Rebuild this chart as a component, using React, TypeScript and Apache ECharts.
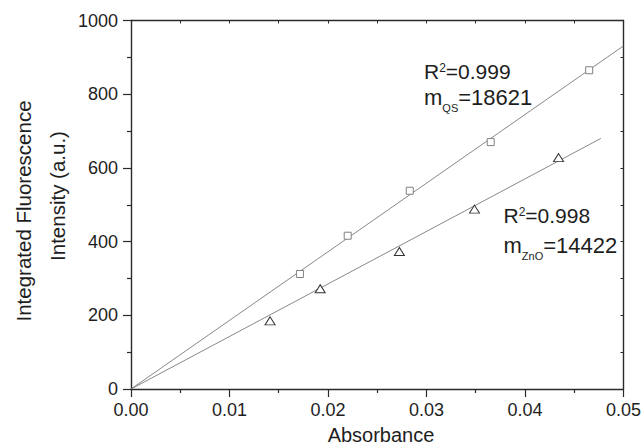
import React, { useEffect, useRef } from "react";
import * as echarts from "echarts";

// ---- data ----
const qsAbsorbance = [0.01715, 0.022, 0.0283, 0.03652, 0.04652];
const qsIntensity = [312, 416, 538, 670, 865];
const znoAbsorbance = [0.01412, 0.01921, 0.02725, 0.03487, 0.04341];
const znoIntensity = [185, 272, 373, 488, 628];
const qsFitX = [0, 0.05];
const qsFitY = [0, 931];
const znoFitX = [0, 0.0477];
const znoFitY = [0, 680];
const xTickLabels = ["0.00", "0.01", "0.02", "0.03", "0.04", "0.05"];
const yTickLabels = ["0", "200", "400", "600", "800", "1000"];

const FONT = "'Liberation Sans', Arial, Helvetica, sans-serif";
const TXT = "#1e1e1e";
const AX = "#2a2a2a";

const zip = (xs: number[], ys: number[]) => xs.map((x, i) => [x, ys[i]]);

function txt(
  text: string,
  x: number,
  y: number,
  size: number,
  align: string = "left",
  rotation = 0
) {
  return {
    type: "text",
    x,
    y,
    rotation,
    silent: true,
    style: {
      text,
      fill: TXT,
      font: `${size}px ${FONT}`,
      textAlign: align,
      textVerticalAlign: "middle",
    },
  };
}

// Arial / Liberation Sans advance widths (em) for the glyphs used in annotations
const ADV: Record<string, number> = {
  R: 0.722, m: 0.833, Q: 0.778, S: 0.667, Z: 0.611, n: 0.556, O: 0.778,
  "2": 0.556, "=": 0.584, ".": 0.278,
};
const adv = (s: string, size: number) =>
  s.split("").reduce((a, c) => a + (ADV[c] ?? 0.556) * size, 0);

// R^2 = value line and m_sub = value line, laid out piece by piece
function annotation(
  x0: number,
  rY: number,
  mY: number,
  r2: string,
  sub: string,
  slope: string
) {
  const R = 21, SUP = 12, M = 22, SUB = 11;
  const supX = x0 + adv("R", R);
  const eqX = supX + adv("2", SUP);
  const subX = x0 + adv("m", M);
  const valX = subX + adv(sub, SUB);
  return [
    txt("R", x0, rY, R),
    txt("2", supX, rY - 3.5, SUP),
    txt("=" + r2, eqX, rY, R),
    txt("m", x0, mY, M),
    txt(sub, subX, mY + 11, SUB),
    txt("=" + slope, valX, mY, M),
  ];
}

export default function App() {
  const ref = useRef<HTMLDivElement>(null);

  useEffect(() => {
    if (!ref.current) return;
    const chart = echarts.init(ref.current, null, { renderer: "svg" });

    const xLabel = (v: number) => xTickLabels[Math.round(v / 0.01)] ?? "";
    const yLabel = (v: number) => yTickLabels[Math.round(v / 200)] ?? "";

    chart.setOption({
      animation: false,
      backgroundColor: "#ffffff",
      grid: { left: 131, right: 18, top: 20.5, bottom: 57, containLabel: false },
      xAxis: [
        {
          type: "value",
          position: "bottom",
          min: 0,
          max: 0.05,
          interval: 0.01,
          axisLine: { show: true, onZero: false, lineStyle: { color: AX, width: 1.4 } },
          axisTick: { show: true, inside: false, length: 8, lineStyle: { color: AX, width: 1.2 } },
          minorTick: { show: true, splitNumber: 2, length: 4, lineStyle: { color: AX, width: 1.2 } },
          splitLine: { show: false },
          minorSplitLine: { show: false },
          axisLabel: { formatter: xLabel, fontSize: 18, color: TXT, fontFamily: FONT, margin: 12 },
        },
        {
          type: "value",
          position: "top",
          min: 0,
          max: 0.05,
          interval: 0.005,
          axisLine: { show: true, onZero: false, lineStyle: { color: AX, width: 1.4 } },
          axisTick: { show: true, inside: true, length: 3, lineStyle: { color: AX, width: 1 } },
          splitLine: { show: false },
          axisLabel: { show: false },
        },
      ],
      yAxis: [
        {
          type: "value",
          position: "left",
          min: 0,
          max: 1000,
          interval: 200,
          axisLine: { show: true, onZero: false, lineStyle: { color: AX, width: 1.4 } },
          axisTick: { show: true, inside: false, length: 8, lineStyle: { color: AX, width: 1.2 } },
          minorTick: { show: true, splitNumber: 2, length: 4, lineStyle: { color: AX, width: 1.2 } },
          splitLine: { show: false },
          minorSplitLine: { show: false },
          axisLabel: { formatter: yLabel, fontSize: 18, color: TXT, fontFamily: FONT, margin: 13 },
        },
        {
          type: "value",
          position: "right",
          min: 0,
          max: 1000,
          interval: 100,
          axisLine: { show: true, onZero: false, lineStyle: { color: AX, width: 1.4 } },
          axisTick: { show: true, inside: true, length: 3, lineStyle: { color: AX, width: 1 } },
          splitLine: { show: false },
          axisLabel: { show: false },
        },
      ],
      series: [
        {
          name: "QS fit",
          type: "line",
          data: zip(qsFitX, qsFitY),
          symbol: "none",
          lineStyle: { color: "#7a7a7a", width: 0.9 },
          z: 2,
        },
        {
          name: "ZnO fit",
          type: "line",
          data: zip(znoFitX, znoFitY),
          symbol: "none",
          lineStyle: { color: "#7a7a7a", width: 0.9 },
          z: 2,
        },
        {
          name: "QS",
          type: "scatter",
          data: zip(qsAbsorbance, qsIntensity),
          symbol: "rect",
          symbolSize: 7,
          itemStyle: { color: "#ffffff", borderColor: "#808080", borderWidth: 1, opacity: 1 },
          z: 3,
        },
        {
          name: "ZnO",
          type: "scatter",
          data: zip(znoAbsorbance, znoIntensity),
          symbol: "triangle",
          symbolSize: [10, 8],
          itemStyle: { color: "#ffffff", borderColor: "#333333", borderWidth: 1, opacity: 1 },
          z: 3,
        },
      ],
      graphic: [
        // axis titles
        txt("Absorbance", 381, 435, 20, "center"),
        txt("Integrated Fluorescence", 23, 211, 20.5, "center", Math.PI / 2),
        txt("Intensity (a.u.)", 57, 196, 20.5, "center", Math.PI / 2),
        // annotations
        ...annotation(424, 71, 97.4, "0.999", "QS", "18621"),
        ...annotation(503.5, 215.8, 245.4, "0.998", "ZnO", "14422"),
      ],
    });

    return () => chart.dispose();
  }, []);

  return (
    <div
      ref={ref}
      style={{ position: "fixed", left: 0, top: 0, width: 644, height: 446, background: "#fff" }}
    />
  );
}
